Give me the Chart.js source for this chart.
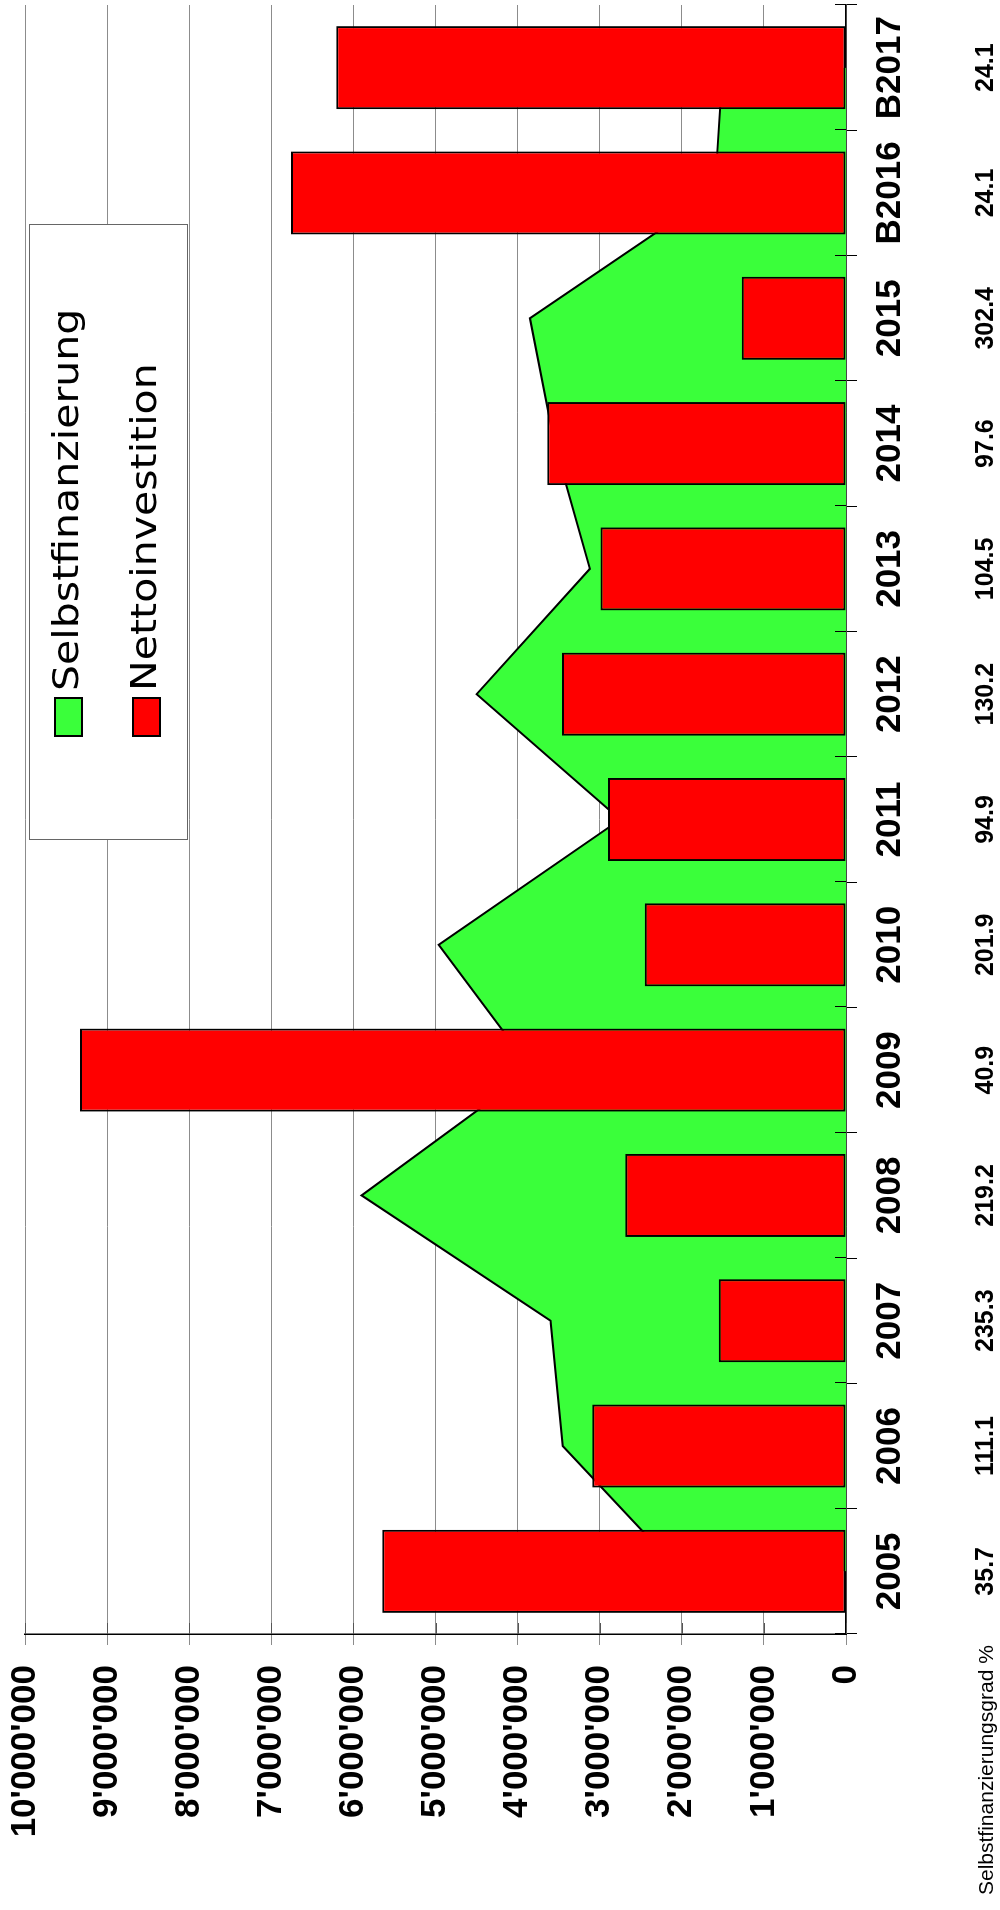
<!DOCTYPE html>
<html>
<head>
<meta charset="utf-8">
<script src="https://cdn.jsdelivr.net/npm/chart.js@4.4.1/dist/chart.umd.min.js"></script>
<style>
  html,body{margin:0;padding:0;background:#fff;}
  body{width:1000px;height:1910px;overflow:hidden;position:relative;}
  /* chart is drawn landscape, then turned a quarter left */
  #wrap{position:absolute;left:0;top:0;width:1910px;height:1000px;transform-origin:0 0;transform:translate(0,1910px) rotate(-90deg);}
  canvas{display:block;}
</style>
</head>
<body>
<div id="wrap"><canvas id="chart" width="1910" height="1000"></canvas></div>
<script>
// Data
const years = ['2005','2006','2007','2008','2009','2010','2011','2012','2013','2014','2015','B2016','B2017'];
const nettoinvestition = [5650000,3090000,1550000,2690000,9330000,2450000,2900000,3460000,2990000,3640000,1270000,6760000,6210000];
const selbstfinanzierung = [2020000,3450000,3600000,5900000,3820000,4960000,2750000,4500000,3120000,3550000,3850000,1600000,1500000];
const sfGrad = ['35.7','111.1','235.3','219.2','40.9','201.9','94.9','130.2','104.5','97.6','302.4','24.1','24.1'];
const sfGradLabel = 'Selbstfinanzierungsgrad %';
const valueMax = 10000000, valueStep = 1000000;

const GREEN = '#3aff3a', RED = '#ff0000';
const fmt = v => String(v).replace(/\B(?=(\d{3})+(?!\d))/g, "'");

Chart.defaults.font.family = '"Liberation Sans", Arial, sans-serif';
Chart.defaults.color = '#000';

// extra drawing: inner ticks, percent row, legend box
const extras = {
  id:'extras',
  afterDraw(chart){
    const ctx = chart.ctx, xs = chart.scales.x, ys = chart.scales.y, a = chart.chartArea;
    ctx.save();
    // inner halves of category ticks
    ctx.strokeStyle = '#000'; ctx.lineWidth = 1;
    const w = (a.right - a.left) / years.length;
    for(let k=0;k<=years.length;k++){
      const px = Math.round(a.left + k*w) + 0.5;
      ctx.beginPath(); ctx.moveTo(px, a.bottom - 11); ctx.lineTo(px, a.bottom); ctx.stroke();
    }
    // inner value ticks
    ctx.strokeStyle = '#555';
    for(let v=0; v<=valueMax; v+=valueStep){
      const py = Math.round(ys.getPixelForValue(v)) + 0.5;
      ctx.beginPath(); ctx.moveTo(a.left, py); ctx.lineTo(a.left + 11, py); ctx.stroke();
    }
    // Selbstfinanzierungsgrad row
    ctx.fillStyle = '#000';
    ctx.textBaseline = 'alphabetic';
    ctx.font = 'bold 25px "Liberation Sans"';
    ctx.textAlign = 'center';
    sfGrad.forEach((t,i)=> ctx.fillText(t, xs.getPixelForValue(i), 993));
    ctx.font = '21px "Liberation Sans"';
    ctx.textAlign = 'left';
    ctx.fillText(sfGradLabel, 15, 993);

    // legend
    const lx0 = 1070, ly0 = 29, lx1 = 1685, ly1 = 187;
    ctx.fillStyle = '#fff'; ctx.fillRect(lx0, ly0, lx1-lx0, ly1-ly0);
    ctx.strokeStyle = '#666'; ctx.lineWidth = 1;
    ctx.strokeRect(lx0+0.5, ly0+0.5, lx1-lx0, ly1-ly0);
    const items = [
      {label: chart.data.datasets[1].label, color: GREEN, cy: 68.5},
      {label: chart.data.datasets[0].label, color: RED, cy: 146.5}
    ];
    items.forEach(it=>{
      ctx.fillStyle = it.color;
      ctx.fillRect(1174, it.cy-13.5, 38, 27);
      ctx.strokeStyle = '#000'; ctx.lineWidth = 2;
      ctx.strokeRect(1174, it.cy-13.5, 38, 27);
      ctx.save();
      ctx.translate(1219, it.cy);
      ctx.scale(1.14, 1);
      ctx.font = '36px "DejaVu Sans"';
      ctx.fillStyle = '#000';
      ctx.textAlign = 'left'; ctx.textBaseline = 'middle';
      ctx.fillText(it.label, 0, 0);
      ctx.restore();
    });
    ctx.restore();
  }
};

new Chart(document.getElementById('chart'), {
  data:{
    labels: years,
    datasets:[
      {type:'bar', label:'Nettoinvestition', data:nettoinvestition, backgroundColor:RED,
       borderColor:'#000', borderWidth:2, borderSkipped:false,
       categoryPercentage:1, barPercentage:0.663, order:1},
      {type:'line', label:'Selbstfinanzierung', data:selbstfinanzierung, backgroundColor:GREEN,
       borderColor:'#000', borderWidth:2, fill:'origin', pointRadius:0, tension:0, order:2}
    ]
  },
  options:{
    responsive:false,
    devicePixelRatio:1,
    animation:false,
    layout:{padding:{top:25,right:5,left:0,bottom:0}},
    plugins:{legend:{display:false}, tooltip:{enabled:false}},
    scales:{
      x:{
        type:'category', offset:true,
        grid:{display:true, drawOnChartArea:false, drawTicks:true, tickLength:11, color:'#000', offset:true},
        border:{display:true, color:'#000', width:1.5},
        ticks:{font:{size:35, weight:'bold'}, color:'#000', padding:12, maxRotation:0, autoSkip:false},
        afterFit(s){ s.height = 154; s.paddingLeft = 0; s.paddingRight = 0; }
      },
      y:{
        min:0, max:valueMax,
        ticks:{stepSize:valueStep, font:{size:35, weight:'bold'}, color:'#000', padding:20, callback:v=>fmt(v)},
        grid:{color:'#8c8c8c', lineWidth:1, tickLength:11},
        border:{display:true, color:'#000', width:1.5},
        afterFit(s){ s.width = 276; s.paddingTop = 0; s.paddingBottom = 0; }
      }
    }
  },
  plugins:[extras]
});
</script>
</body>
</html>
